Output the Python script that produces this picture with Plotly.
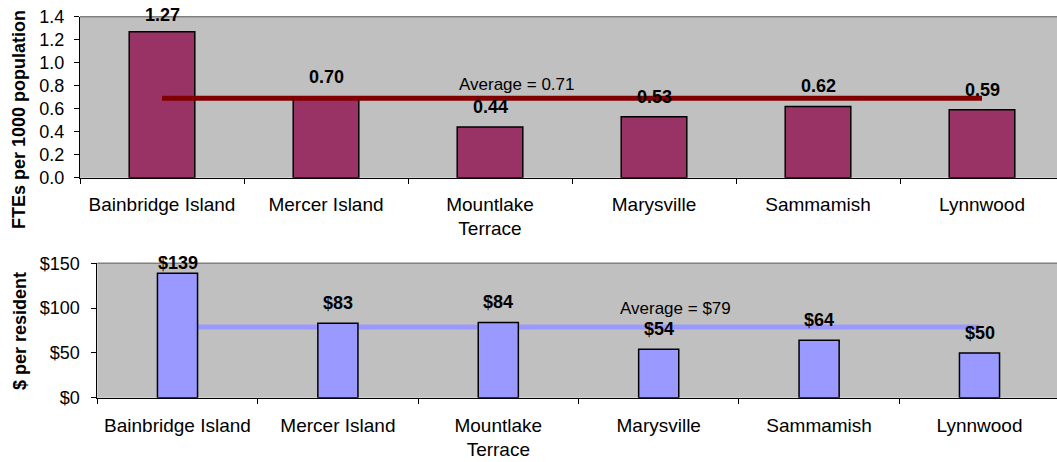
import plotly.graph_objects as go

# ---- data ----
cities = ["Bainbridge Island", "Mercer Island", "Mountlake Terrace", "Marysville", "Sammamish", "Lynnwood"]
tick_text = ["Bainbridge Island", "Mercer Island", "Mountlake<br>Terrace", "Marysville", "Sammamish", "Lynnwood"]
ftes = [1.27, 0.70, 0.44, 0.53, 0.62, 0.59]
fte_avg_line = 0.69
fte_avg_label = "Average = 0.71"
dollars = [139, 83, 84, 54, 64, 50]
dollar_avg_line = 79
dollar_avg_label = "Average = $79"

W, H = 1057, 462
FONT = "Liberation Sans, Arial, sans-serif"

# plot-area geometry (pixels)
top_y0, top_y1 = 16.7, 177.7
bot_y0, bot_y1 = 263.3, 397.7
top_x0, bot_x0 = 80, 97.3
top_cat_w, bot_cat_w = 164.0, 160.4

fig = go.Figure()

fig.add_trace(go.Bar(x=cities, y=ftes, width=0.40, marker=dict(color="#993366", line=dict(color="black", width=1.5)),
                     xaxis="x", yaxis="y", showlegend=False, hoverinfo="skip"))
fig.add_trace(go.Bar(x=cities, y=dollars, width=0.25, marker=dict(color="#9999FF", line=dict(color="black", width=1.5)),
                     xaxis="x2", yaxis="y2", showlegend=False, hoverinfo="skip"))

axis_common = dict(showgrid=False, zeroline=False, showline=True, linecolor="black", linewidth=1,
                   ticks="outside", ticklen=5, tickcolor="black", automargin=False)
xfont = dict(family=FONT, size=19, color="black")
yfont = dict(family=FONT, size=18, color="black")

fig.update_layout(
    template="none",
    width=W, height=H, autosize=False,
    margin=dict(l=0, r=0, t=0, b=0, pad=0),
    paper_bgcolor="white", plot_bgcolor="#C0C0C0",
    xaxis=dict(domain=[top_x0 / W, 1], type="category", categoryorder="array", categoryarray=cities,
               range=[-0.5, -0.5 + (W - top_x0) / top_cat_w], tickson="boundaries",
               tickvals=cities, ticktext=tick_text, ticklabelstandoff=9, anchor="y", tickfont=xfont, **axis_common),
    yaxis=dict(domain=[1 - top_y1 / H, 1 - top_y0 / H], range=[0, 1.4], dtick=0.2, tickformat=".1f",
               anchor="x", ticklabelstandoff=6, tickfont=yfont, **axis_common),
    xaxis2=dict(domain=[bot_x0 / W, 1], type="category", categoryorder="array", categoryarray=cities,
                range=[-0.5, -0.5 + (W - bot_x0) / bot_cat_w], tickson="boundaries",
                tickvals=cities, ticktext=tick_text, ticklabelstandoff=10, anchor="y2", tickfont=xfont, **axis_common),
    yaxis2=dict(domain=[1 - bot_y1 / H, 1 - bot_y0 / H], range=[0, 150], dtick=50, tickprefix="$",
                anchor="x2", ticklabelstandoff=8, tickfont=yfont, **axis_common),
)

shapes = []
# plot-area top borders
for xr, yr in (("x domain", "y domain"), ("x2 domain", "y2 domain")):
    shapes.append(dict(type="line", xref=xr, yref=yr, x0=0, x1=1, y0=1, y1=1,
                       line=dict(color="#808080", width=1.5), layer="above"))
# average lines
shapes.append(dict(type="line", xref="x", yref="y", x0=cities[0], x1=cities[-1], y0=fte_avg_line, y1=fte_avg_line,
                   line=dict(color="#800000", width=5), layer="above"))
shapes.append(dict(type="line", xref="x2", yref="y2", x0=cities[0], x1=cities[-1], y0=dollar_avg_line, y1=dollar_avg_line,
                   line=dict(color="#9999FF", width=5), layer="below"))
fig.update_layout(shapes=shapes)

ann = []
top_ppu = (top_y1 - top_y0) / 1.4
bot_ppu = (bot_y1 - bot_y0) / 150
for c, v in zip(cities, ftes):
    shift = min(20, (1.4 - v) * top_ppu + 1.3)
    ann.append(dict(x=c, y=v, xref="x", yref="y", text=f"<b>{v:.2f}</b>", showarrow=False,
                    yanchor="middle", yshift=shift, font=dict(family=FONT, size=18, color="black")))
for c, v in zip(cities, dollars):
    shift = min(20, (150 - v) * bot_ppu + 0.7)
    ann.append(dict(x=c, y=v, xref="x2", yref="y2", text=f"<b>${v}</b>", showarrow=False,
                    yanchor="middle", yshift=shift, font=dict(family=FONT, size=18, color="black")))
ann.append(dict(x=(516 - top_x0) / (W - top_x0), y=fte_avg_line, xref="x domain", yref="y", text=fte_avg_label,
                showarrow=False, yanchor="middle", yshift=14, font=dict(family=FONT, size=17, color="black")))
ann.append(dict(x=(675 - bot_x0) / (W - bot_x0), y=dollar_avg_line, xref="x2 domain", yref="y2", text=dollar_avg_label,
                showarrow=False, yanchor="middle", yshift=18, font=dict(family=FONT, size=17, color="black")))
# axis titles
ann.append(dict(x=19 / W, y=1 - 120 / H, xref="paper", yref="paper", text="<b>FTEs per 1000 population</b>",
                textangle=-90, showarrow=False, xanchor="center", yanchor="middle",
                font=dict(family=FONT, size=18, color="black")))
ann.append(dict(x=20 / W, y=1 - 331 / H, xref="paper", yref="paper", text="<b>$ per resident</b>",
                textangle=-90, showarrow=False, xanchor="center", yanchor="middle",
                font=dict(family=FONT, size=18, color="black")))
fig.update_layout(annotations=ann)

fig.write_html("out.html")
